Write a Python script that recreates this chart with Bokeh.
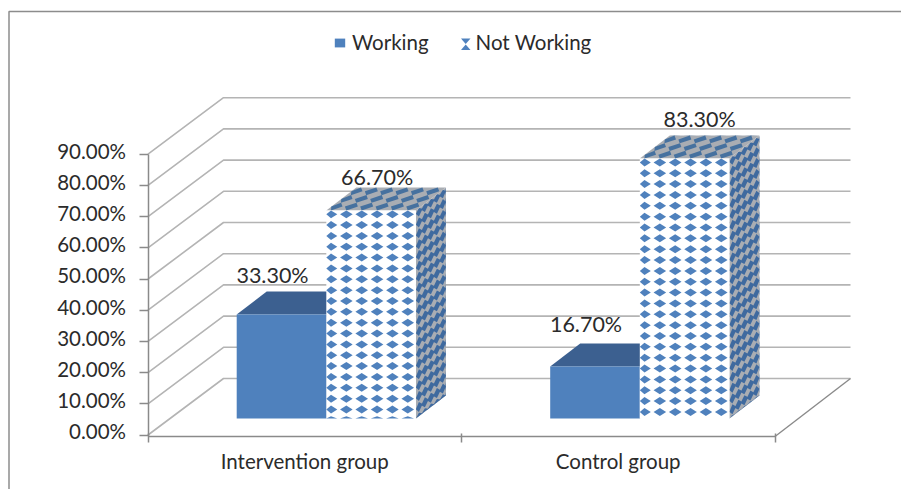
from bokeh.embed import file_html
from bokeh.resources import INLINE
from bokeh.plotting import figure
from bokeh.models import (Range1d, LinearAxis, FixedTicker, Legend, LegendItem, ColumnDataSource)
from bokeh.core.properties import value
import numpy as np

# ---- data ----
categories = ["Intervention group", "Control group"]
series_names = ["Working", "Not Working"]
working = [0.333, 0.167]
not_working = [0.667, 0.833]
y_ticks = [0.0, 0.1, 0.2, 0.3, 0.4, 0.5, 0.6, 0.7, 0.8, 0.9]

# ---- layout (pixel constants of the picture) ----
X0, Y0 = 147.5, 434.5      # page pixel of group 0 / value 0 on the front plane
PX_X, PX_Y = 313.5, 312.0  # pixels per group / per 100 %
W, H = 901, 489
FONT = "Lato"
FS = "20.5px"
FS_VAL = "21.5px"
TXT = "#2b2b2b"
BLUE = "#4f81bd"
BLUE_TOP = "#3c6090"
GREY = "#a9adb3"
GRID = "#b4b4b4"
AXIS = "#8a8a8a"


def sx(px):
    return (px - X0) / PX_X


def sy(py):
    return (Y0 - py) / PX_Y


WALL_DX, WALL_DY = 75.5 / PX_X, 56.5 / PX_Y   # depth of the floor
BAR_DX, BAR_DY = 30 / PX_X, 23 / PX_Y         # depth of a bar
BAR_OFF = 88.7 / PX_X                         # first bar's left edge inside a group
BAR_W = 89.6 / PX_X
BASE = 16.5 / PX_Y                            # bars stand this far above the front 0 line

p = figure(width=W, height=H, output_backend="svg", toolbar_location=None,
           x_range=Range1d(sx(0), sx(W)), y_range=Range1d(sy(H), sy(0)),
           min_border_left=0, min_border_right=0, min_border_top=0, min_border_bottom=0,
           x_axis_type=None, y_axis_type=None, outline_line_color=None)
p.xgrid.visible = False
p.ygrid.visible = False

# picture frame (top and left edges only, the rest is cropped)
p.line([sx(8.5), sx(8.5), sx(W)], [sy(H), sy(11), sy(11)], line_color="#8c8c8c", line_width=1.5)

# back wall and side wall lines
n_groups = len(categories)
for t in y_ticks:
    p.line([0, WALL_DX, n_groups + WALL_DX], [t, t + WALL_DY, t + WALL_DY], line_color=GRID, line_width=1.6)
# floor right edge
p.line([n_groups, n_groups + WALL_DX], [-0.005, WALL_DY], line_color=AXIS, line_width=1.4)


def diamonds(ox, oy, ax, ay, bx, by, u0, du, hu, v0, dv, hv):
    """Lattice of diamonds on the parallelogram O + u*a + v*b, cut at its edges."""
    xs, ys = [], []
    for uc in np.arange(u0, 1 + hu, du):
        for vc in np.arange(v0, 1 + hv, dv):
            pts = [(uc - hu, vc), (uc, vc - hv), (uc + hu, vc), (uc, vc + hv)]
            pts = [(min(max(a, 0), 1), min(max(b, 0), 1)) for a, b in pts]
            xs.append([ox + a * ax + b * bx for a, b in pts])
            ys.append([oy + a * ay + b * by for a, b in pts])
    return xs, ys


def box_faces(left, h):
    """Outlines of front, top and side faces of a bar of height h."""
    right = left + BAR_W
    top = BASE + h
    front = ([left, right, right, left], [BASE, BASE, top, top])
    roof = ([left, right, right + BAR_DX, left + BAR_DX], [top, top, top + BAR_DY, top + BAR_DY])
    side = ([right, right + BAR_DX, right + BAR_DX, right], [BASE, BASE + BAR_DY, top + BAR_DY, top])
    return front, roof, side


# Working: solid bars
fx, fy, tx, ty, sx_, sy_ = [], [], [], [], [], []
for i, v in enumerate(working):
    f, t, s = box_faces(i + BAR_OFF, v)
    fx.append(f[0]); fy.append(f[1]); tx.append(t[0]); ty.append(t[1]); sx_.append(s[0]); sy_.append(s[1])
p.patches(sx_, sy_, fill_color=BLUE_TOP, line_color=None)
p.patches(tx, ty, fill_color=BLUE_TOP, line_color=None)
working_r = p.patches(fx, fy, fill_color=BLUE, line_color=None)

# Not Working: patterned bars
for i, v in enumerate(not_working):
    left = i + BAR_OFF + BAR_W
    f, t, s = box_faces(left, v)
    hpx = v * PX_Y
    wpx = BAR_W * PX_X
    top = BASE + v
    p.patch(s[0], s[1], fill_color=GREY, line_color=None)
    xs, ys = diamonds(left + BAR_W, top, BAR_DX, BAR_DY, 0, -v,
                      0.1, 0.2, 0.125, 3.5 / hpx, 10.85 / hpx, 5.0 / hpx)
    p.patches(xs, ys, fill_color="#3f6a9f", line_color=None)
    p.patch(t[0], t[1], fill_color=GREY, line_color=None)
    xs, ys = diamonds(left, top, BAR_W, 0, BAR_DX, BAR_DY,
                      4.7 / wpx, 15.35 / wpx, 6.5 / wpx, 1 / 6, 1 / 3, 0.17)
    p.patches(xs, ys, fill_color="#46719f", line_color=None)
    p.patch(f[0], f[1], fill_color="white", line_color=None)
    xs, ys = diamonds(left, top, BAR_W, 0, 0, -v,
                      4.7 / wpx, 15.35 / wpx, 6.3 / wpx, 3.8 / hpx, 10.85 / hpx, 4.0 / hpx)
    p.patches(xs, ys, fill_color=BLUE, line_color=None)

# value labels
lab_x = [i + BAR_OFF + BAR_W / 2 for i in range(n_groups)] + [i + BAR_OFF + 1.5 * BAR_W for i in range(n_groups)]
lab_y = [BASE + v for v in working + not_working]
lab_t = [f"{v * 100:.2f}%" for v in working + not_working]
lab_src = ColumnDataSource(dict(x=lab_x, y=lab_y, t=lab_t,
                                dx=[-9, -9, 6, 15], dy=[-40, -42, -33, -40]))
p.text("x", "y", text="t", source=lab_src, x_offset="dx", y_offset="dy",
       text_font=value(FONT), text_font_size=FS_VAL, text_color=TXT,
       text_align="center", text_baseline="middle")

# axes, in the plane of the front edge: line and ticks ...
yax = LinearAxis(fixed_location=0, bounds=(0, 0.9), ticker=FixedTicker(ticks=y_ticks),
                 axis_line_color=AXIS, axis_line_width=1.5,
                 major_tick_line_color=AXIS, major_tick_line_width=1.5,
                 major_tick_out=9, major_tick_in=0, minor_tick_out=0, minor_tick_in=0,
                 major_label_text_font_size="0px", major_label_text_color=None)
p.add_layout(yax, "left")
# ... and the labels, which sit a little above their ticks in the picture
LABEL_LIFT = 3.5 / PX_Y
label_ticks = [round(t + LABEL_LIFT, 5) for t in y_ticks]
ylab = LinearAxis(fixed_location=0, ticker=FixedTicker(ticks=label_ticks),
                  major_label_overrides={k: f"{t * 100:.2f}%" for k, t in zip(label_ticks, y_ticks)},
                  axis_line_color=None, major_tick_line_color=None, minor_tick_line_color=None,
                  major_tick_out=0, major_tick_in=0,
                  major_label_standoff=22, major_label_text_font=FONT,
                  major_label_text_font_size=FS, major_label_text_color=TXT)
p.add_layout(ylab, "left")

xline = LinearAxis(fixed_location=-0.005, bounds=(0, n_groups), ticker=FixedTicker(ticks=list(range(n_groups + 1))),
                   axis_line_color=AXIS, axis_line_width=1.5,
                   major_tick_line_color=AXIS, major_tick_line_width=1.5,
                   major_tick_out=6, major_tick_in=3, minor_tick_out=0, minor_tick_in=0,
                   major_label_text_font_size="0px", major_label_text_color=None)
p.add_layout(xline, "below")

centres = [i + 0.5 for i in range(n_groups)]
xax = LinearAxis(fixed_location=-0.005, ticker=FixedTicker(ticks=centres),
                 major_label_overrides={c: n for c, n in zip(centres, categories)},
                 axis_line_color=None, major_tick_line_color=None, minor_tick_line_color=None,
                 major_tick_out=0, major_tick_in=0,
                 major_label_standoff=12, major_label_text_font=FONT,
                 major_label_text_font_size=FS, major_label_text_color=TXT)
p.add_layout(xax, "below")

# legend: real entries, the second key is overlaid with its small hourglass icon
ghost = p.quad(left=[0], right=[0.001], bottom=[0], top=[0.001], fill_alpha=0, line_alpha=0)
hg_x = [[sx(460.5), sx(470), sx(465.2)], [sx(460.5), sx(470), sx(465.2)]]
hg_y = [[sy(38), sy(38), sy(43.5)], [sy(49.5), sy(49.5), sy(44)]]
p.patches(hg_x, hg_y, fill_color=BLUE, line_color=None)
legend = Legend(items=[LegendItem(label=series_names[0], renderers=[working_r], index=0),
                       LegendItem(label=series_names[1], renderers=[ghost])],
                orientation="horizontal", location=(333, 435), padding=0, margin=0, spacing=28,
                glyph_width=13, glyph_height=11, label_standoff=6, label_height=20,
                label_text_font=FONT, label_text_font_size=FS, label_text_color=TXT,
                border_line_color=None, background_fill_alpha=0)
p.add_layout(legend, "center")

open("out.html", "w").write(file_html(p, INLINE))
